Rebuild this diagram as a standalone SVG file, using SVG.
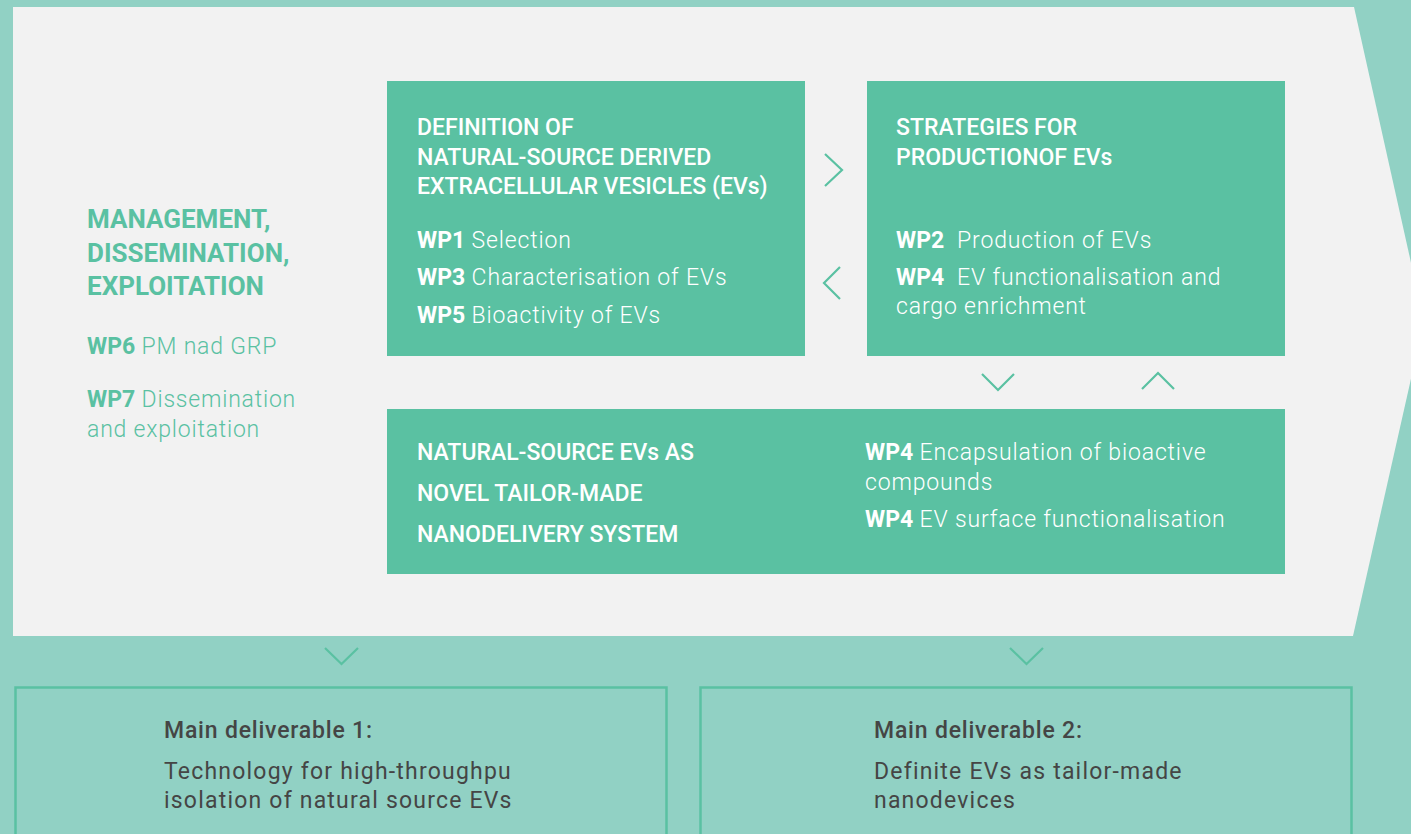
<svg xmlns="http://www.w3.org/2000/svg" width="1411" height="834" viewBox="0 0 1411 834">
  <style>
    .panel { fill: #f2f2f2; }
    .box { fill: #5ac1a2; }
    .outbox { fill: none; stroke: #5ac1a2; stroke-width: 2.5; }
    .chev { fill: none; stroke: #5ac1a2; stroke-width: 2.2; stroke-linecap: butt; }
    text { font-family: Roboto, "Noto Sans", sans-serif; }
    .head { fill: #ffffff; font-size: 23px; font-weight: 500; }
    .item { fill: #ffffff; font-size: 23px; font-weight: 300; letter-spacing: 0.85px; }
    .b { font-weight: 700; letter-spacing: 0; }
    .mhead { fill: #5ac1a2; font-size: 26px; font-weight: 700; }
    .mitem { fill: #5ac1a2; font-size: 23px; font-weight: 300; letter-spacing: 0.8px; }
    .dhead { fill: #454545; font-size: 23px; font-weight: 500; letter-spacing: 0.8px; }
    .ditem { fill: #454545; font-size: 23px; font-weight: 400; letter-spacing: 1.2px; }
  </style>

  <!-- backdrop and arrow-shaped work area -->
  <rect x="0" y="0" width="1411" height="834" fill="#91d1c4"/>
  <polygon class="panel" points="13,7 1354,7 1424,321 1353,636 13,636"/>

  <!-- management column -->
  <g id="management">
    <text class="mhead" x="87" y="228">MANAGEMENT,</text>
    <text class="mhead" x="87" y="262">DISSEMINATION,</text>
    <text class="mhead" x="87" y="295">EXPLOITATION</text>
    <text class="mitem" x="87" y="354"><tspan class="b">WP6</tspan> PM nad GRP</text>
    <text class="mitem" x="87" y="407"><tspan class="b">WP7</tspan> Dissemination</text>
    <text class="mitem" x="87" y="437">and exploitation</text>
  </g>

  <!-- definition box -->
  <g id="definition">
    <rect class="box" x="387" y="81" width="418" height="275"/>
    <text class="head" x="417" y="135">DEFINITION OF</text>
    <text class="head" x="417" y="165">NATURAL-SOURCE DERIVED</text>
    <text class="head" x="417" y="194">EXTRACELLULAR VESICLES (EVs)</text>
    <text class="item" x="417" y="248"><tspan class="b">WP1</tspan> Selection</text>
    <text class="item" x="417" y="285"><tspan class="b">WP3</tspan> Characterisation of EVs</text>
    <text class="item" x="417" y="323"><tspan class="b">WP5</tspan> Bioactivity of EVs</text>
  </g>

  <!-- production strategies box -->
  <g id="strategies">
    <rect class="box" x="867" y="81" width="418" height="275"/>
    <text class="head" x="896" y="135">STRATEGIES FOR</text>
    <text class="head" x="896" y="165">PRODUCTIONOF EVs</text>
    <text class="item" x="896" y="248" xml:space="preserve"><tspan class="b">WP2</tspan>  Production of EVs</text>
    <text class="item" x="896" y="285" xml:space="preserve"><tspan class="b">WP4</tspan>  EV functionalisation and</text>
    <text class="item" x="896" y="314">cargo enrichment</text>
  </g>

  <!-- nanodelivery box -->
  <g id="nanodelivery">
    <rect class="box" x="387" y="409" width="898" height="165"/>
    <text class="head" x="417" y="460">NATURAL-SOURCE EVs AS</text>
    <text class="head" x="417" y="501">NOVEL TAILOR-MADE</text>
    <text class="head" x="417" y="542">NANODELIVERY SYSTEM</text>
    <text class="item" x="865" y="460"><tspan class="b">WP4</tspan> Encapsulation of bioactive</text>
    <text class="item" x="865" y="490">compounds</text>
    <text class="item" x="865" y="527"><tspan class="b">WP4</tspan> EV surface functionalisation</text>
  </g>

  <!-- deliverables -->
  <g id="deliverable1">
    <rect class="outbox" x="15.5" y="687.5" width="651" height="160"/>
    <text class="dhead" x="164" y="738">Main deliverable 1:</text>
    <text class="ditem" x="164" y="779">Technology for high-throughpu</text>
    <text class="ditem" x="164" y="808">isolation of natural source EVs</text>
  </g>
  <g id="deliverable2">
    <rect class="outbox" x="700.5" y="687.5" width="651" height="160"/>
    <text class="dhead" x="874" y="738">Main deliverable 2:</text>
    <text class="ditem" x="874" y="779">Definite EVs as tailor-made</text>
    <text class="ditem" x="874" y="808">nanodevices</text>
  </g>

  <!-- flow chevrons -->
  <g id="connectors">
    <polyline class="chev" points="825,154 842,170 825,186"/>
    <polyline class="chev" points="840,267 824,283 840,299"/>
    <polyline class="chev" points="982,374 998,390 1014,374"/>
    <polyline class="chev" points="1142,389 1158,373 1174,389"/>
    <polyline class="chev" points="325,648 341.5,664 358,648"/>
    <polyline class="chev" points="1010,648 1026.5,664 1043,648"/>
  </g>
</svg>
